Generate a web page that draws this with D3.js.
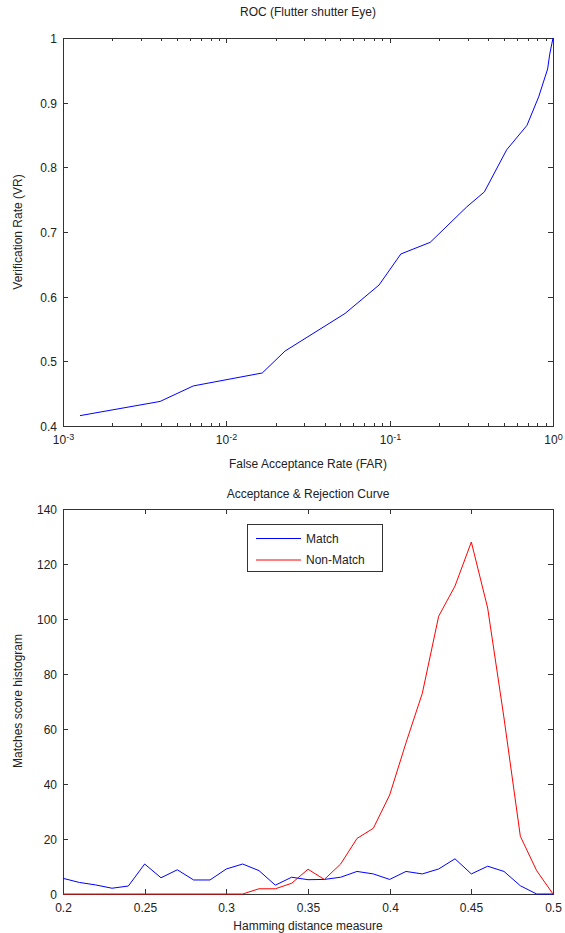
<!DOCTYPE html>
<html>
<head>
<meta charset="utf-8">
<script src="https://cdn.jsdelivr.net/npm/d3@7"></script>
<style>
  body { margin: 0; background: #fff; }
  text { font-family: "Liberation Sans", Arial, sans-serif; fill: #222; }
</style>
</head>
<body>
<div id="chart"></div>
<script>
  // ROC curve (log x)
  var far = [0.00127, 0.00393, 0.00628, 0.0166, 0.0229, 0.0533, 0.0861, 0.117, 0.177, 0.297, 0.380, 0.52, 0.693, 0.817, 0.927, 0.955, 1.0];
  var vr  = [0.416, 0.438, 0.462, 0.482, 0.516, 0.574, 0.618, 0.666, 0.684, 0.739, 0.762, 0.827, 0.865, 0.909, 0.952, 0.975, 1.0];
  var rocTicks = [0.4, 0.5, 0.6, 0.7, 0.8, 0.9, 1];

  // histogram curves
  var hamming = [0.20, 0.21, 0.22, 0.23, 0.24, 0.25, 0.26, 0.27, 0.28, 0.29, 0.30,
                 0.31, 0.32, 0.33, 0.34, 0.35, 0.36, 0.37, 0.38, 0.39, 0.40,
                 0.41, 0.42, 0.43, 0.44, 0.45, 0.46, 0.47, 0.48, 0.49, 0.50];
  var match    = [5.7, 4.2, 3.3, 2.1, 2.9, 10.9, 5.9, 8.8, 5.1, 5.1, 9.1,
                  10.9, 8.5, 3.2, 6.1, 5.2, 5.3, 6.1, 8.2, 7.3, 5.3,
                  8.2, 7.3, 9.1, 12.8, 7.3, 10.1, 8.2, 3.0, 0, 0];
  var nonMatch = [0, 0, 0, 0, 0, 0, 0, 0, 0, 0, 0,
                  0, 1.9, 1.9, 3.9, 9.0, 5.3, 10.9, 20.2, 23.9, 36,
                  55, 73, 101, 112, 128, 104, 64, 21, 8.5, 0];
  var histXTicks = [0.2, 0.25, 0.3, 0.35, 0.4, 0.45, 0.5];
  var histYTicks = [0, 20, 40, 60, 80, 100, 120, 140];
  var seriesNames = ["Match", "Non-Match"];

  var W = 565, H = 933;
  var svg = d3.select("#chart").append("svg")
      .attr("width", W)
      .attr("height", H);

  var axisColor = "#333";
  var fs = 12;

  // set up a matlab style box with inward ticks
  function boxAxes(g, x, y, xTicks, yTicks, xFmt, yFmt, minor) {
    var x0 = x.range()[0], x1 = x.range()[1];
    var y0 = y.range()[0], y1 = y.range()[1];
    g.append("rect")
      .attr("x", x0 + 0.5).attr("y", y1 + 0.5)
      .attr("width", x1 - x0).attr("height", y0 - y1)
      .attr("fill", "none").attr("stroke", axisColor).attr("stroke-width", 1);

    // y ticks
    yTicks.forEach(function(t) {
      var py = Math.round(y(t)) + 0.5;
      g.append("line").attr("x1", x0).attr("x2", x0 + 5).attr("y1", py).attr("y2", py).attr("stroke", axisColor);
      g.append("line").attr("x1", x1).attr("x2", x1 - 5).attr("y1", py).attr("y2", py).attr("stroke", axisColor);
      g.append("text")
        .attr("x", x0 - 6).attr("y", py).attr("dy", "0.35em")
        .attr("text-anchor", "end").style("font-size", fs + "px")
        .text(yFmt(t));
    });

    // x ticks
    xTicks.forEach(function(t) {
      var px = Math.round(x(t)) + 0.5;
      g.append("line").attr("x1", px).attr("x2", px).attr("y1", y0).attr("y2", y0 - 5).attr("stroke", axisColor);
      g.append("line").attr("x1", px).attr("x2", px).attr("y1", y1).attr("y2", y1 + 5).attr("stroke", axisColor);
      xFmt(g.append("text")
        .attr("x", px).attr("y", y0 + 18)
        .attr("text-anchor", "middle").style("font-size", fs + "px"), t);
    });

    if (minor) {
      minor.forEach(function(t) {
        var px = Math.round(x(t)) + 0.5;
        g.append("line").attr("x1", px).attr("x2", px).attr("y1", y0).attr("y2", y0 - 3).attr("stroke", axisColor);
        g.append("line").attr("x1", px).attr("x2", px).attr("y1", y1).attr("y2", y1 + 3).attr("stroke", axisColor);
      });
    }
  }

  // ---------- top: ROC ----------
  var xRoc = d3.scaleLog().domain([1e-3, 1]).range([63, 553]);
  var yRoc = d3.scaleLinear().domain([0.4, 1]).range([426, 38]);
  var rocG = svg.append("g");

  var minorRoc = [];
  [1e-3, 1e-2, 1e-1].forEach(function(dec) {
    for (var k = 2; k <= 9; k++) minorRoc.push(dec * k);
  });

  boxAxes(rocG, xRoc, yRoc, [1e-3, 1e-2, 1e-1, 1], rocTicks,
    function(sel, t) {
      var e = Math.round(Math.log10(t));
      sel.append("tspan").text("10");
      sel.append("tspan").attr("dy", "-0.45em").style("font-size", "9px").text(e);
    },
    function(t) { return t === 1 ? "1" : d3.format(".1f")(t); },
    minorRoc);

  var rocLine = d3.line()
    .x(function(d, i) { return xRoc(far[i]); })
    .y(function(d, i) { return yRoc(vr[i]); });
  rocG.append("path")
    .attr("d", rocLine(far))
    .attr("fill", "none").attr("stroke", "#0000ff").attr("stroke-width", 1);

  rocG.append("text").attr("x", 308).attr("y", 16).attr("text-anchor", "middle")
    .style("font-size", fs + "px").text("ROC (Flutter shutter Eye)");
  rocG.append("text").attr("x", 308).attr("y", 468).attr("text-anchor", "middle")
    .style("font-size", fs + "px").text("False Acceptance Rate (FAR)");
  rocG.append("text").attr("transform", "translate(22,232) rotate(-90)").attr("text-anchor", "middle")
    .style("font-size", fs + "px").text("Verification Rate (VR)");

  // ---------- bottom: histogram curves ----------
  var xH = d3.scaleLinear().domain([0.2, 0.5]).range([63, 553]);
  var yH = d3.scaleLinear().domain([0, 140]).range([894, 509]);
  var histG = svg.append("g");

  boxAxes(histG, xH, yH, histXTicks, histYTicks,
    function(sel, t) { sel.text(String(+t.toFixed(2))); },
    function(t) { return t; }, null);

  var histLine = function(vals) {
    return d3.line()
      .x(function(d, i) { return xH(hamming[i]); })
      .y(function(d) { return yH(d); })(vals);
  };
  histG.append("path").attr("d", histLine(match))
    .attr("fill", "none").attr("stroke", "#0000ff").attr("stroke-width", 1);
  histG.append("path").attr("d", histLine(nonMatch))
    .attr("fill", "none").attr("stroke", "#ff0000").attr("stroke-width", 1);

  histG.append("text").attr("x", 308).attr("y", 498).attr("text-anchor", "middle")
    .style("font-size", fs + "px").text("Acceptance & Rejection Curve");
  histG.append("text").attr("x", 308).attr("y", 930).attr("text-anchor", "middle")
    .style("font-size", fs + "px").text("Hamming distance measure");
  histG.append("text").attr("transform", "translate(22,701) rotate(-90)").attr("text-anchor", "middle")
    .style("font-size", fs + "px").text("Matches score histogram");

  // legend
  var legend = histG.append("g");
  legend.append("rect").attr("x", 247.5).attr("y", 524.5).attr("width", 135).attr("height", 47)
    .attr("fill", "#fff").attr("stroke", axisColor);
  var legColors = ["#0000ff", "#ff0000"];
  seriesNames.forEach(function(n, i) {
    var ly = 538.5 + i * 21.5;
    legend.append("line").attr("x1", 256).attr("x2", 301).attr("y1", ly).attr("y2", ly)
      .attr("stroke", legColors[i]).attr("stroke-width", 1);
    legend.append("text").attr("x", 306).attr("y", ly).attr("dy", "0.35em")
      .style("font-size", fs + "px").text(n);
  });
</script>
</body>
</html>
